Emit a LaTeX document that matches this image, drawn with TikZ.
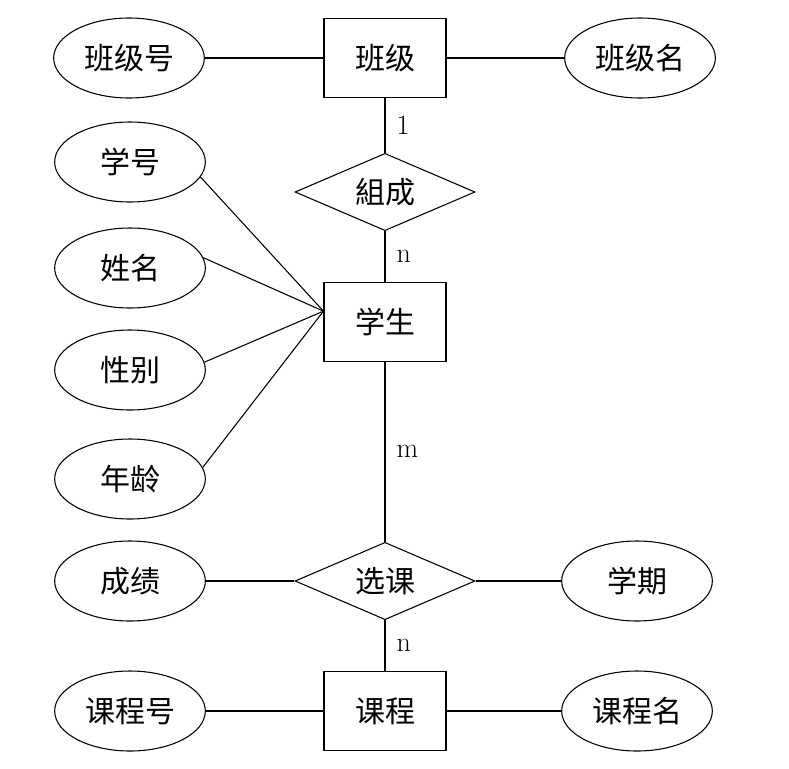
\documentclass[tikz,border=0pt]{standalone}
\usepackage{fontspec}
\newfontfamily\cjk{Noto Sans CJK SC}
\usetikzlibrary{shapes.geometric}
\begin{document}
\begin{tikzpicture}[x=0.75pt, y=-0.75pt, line width=0.8pt,
	every node/.style={font=\cjk\fontsize{22.5}{27}\selectfont},
	entity/.style={draw, rectangle, inner sep=0pt, minimum width=91.5pt, minimum height=59pt},
	attr/.style={draw, ellipse, inner sep=0pt, minimum width=113pt, minimum height=60pt},
	rel/.style={draw, diamond, aspect=2.3, inner sep=0pt, minimum width=135pt, minimum height=58pt},
	card/.style={right, xshift=5pt, font=\fontsize{21}{25}\selectfont}]
\useasboundingbox (0,0) rectangle (789,768);
\node[entity] (bj) at (385.000000, 58.000000) {班级};
\node[attr] (bjh) at (129.000000, 58.000000) {班级号};
\node[attr] (bjm) at (640.000000, 58.000000) {班级名};
\draw (bjh) -- (bj);
\draw (bj) -- (bjm);
\node[rel] (zc) at (385.000000, 192.000000) {組成};
\draw (bj) -- node[card] {1} (zc);
\node[entity] (xs) at (385.000000, 322.000000) {学生};
\draw (zc) -- node[card] {n} (xs);
\node[attr] (xh) at (130.000000, 162.000000) {学号};
\node[attr] (xm) at (130.000000, 268.000000) {姓名};
\node[attr] (xb) at (130.000000, 370.000000) {性别};
\node[attr] (nl) at (130.000000, 479.000000) {年龄};
\draw (xh.-12) -- (xs.170);
\draw (xm.8) -- (xs.170);
\draw (xb.6) -- (xs.170);
\draw (nl.9) -- (xs.170);
\node[rel] (xk) at (385.000000, 581.000000) {选课};
\draw (xs) -- node[card] {m} (xk);
\node[attr] (cj) at (130.000000, 581.000000) {成绩};
\node[attr] (xq) at (637.000000, 581.000000) {学期};
\draw (cj) -- (xk);
\draw (xk) -- (xq);
\node[entity] (kc) at (385.000000, 711.000000) {课程};
\draw (xk) -- node[card] {n} (kc);
\node[attr] (kch) at (130.000000, 711.000000) {课程号};
\node[attr] (kcm) at (637.000000, 711.000000) {课程名};
\draw (kch) -- (kc);
\draw (kc) -- (kcm);
\end{tikzpicture}
\end{document}
